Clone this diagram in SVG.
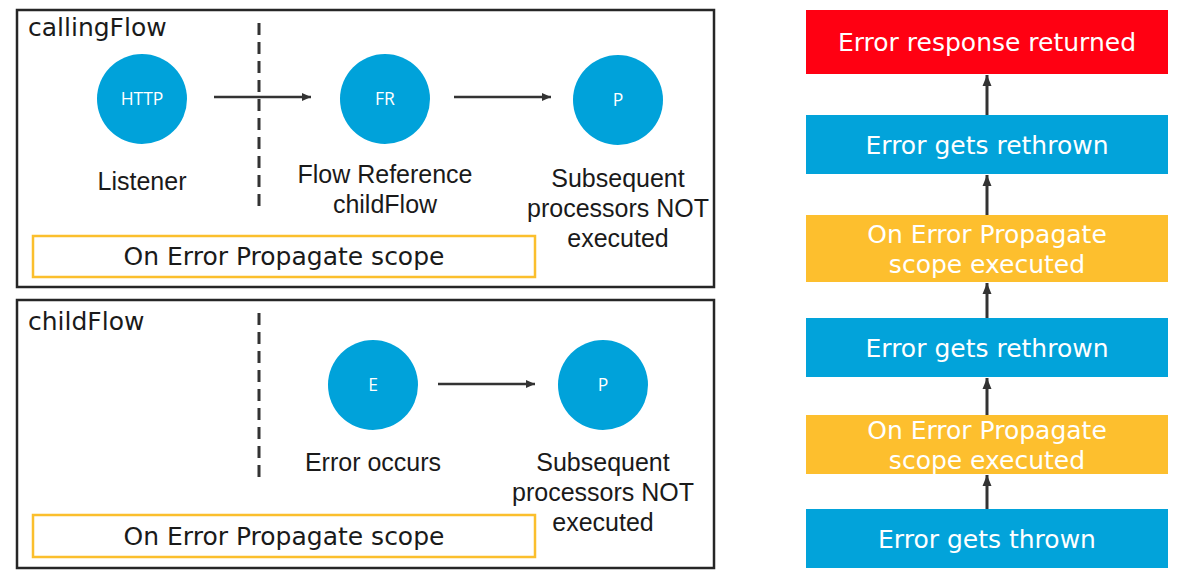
<svg xmlns="http://www.w3.org/2000/svg" width="1182" height="580" viewBox="0 0 1182 580">
<style>
.frame{fill:none;stroke:#262626;stroke-width:2.5}
.dash{stroke:#333;stroke-width:3;stroke-dasharray:12,7}
.scope{fill:#fff;stroke:#FBBF2D;stroke-width:2.5}
.node{fill:#00A2DA}
.nt{font-family:"Open Sans","DejaVu Sans",sans-serif;font-size:17.5px;fill:#fff;text-anchor:middle}
.lbl{font-family:"Liberation Sans",Arial,sans-serif;font-size:25px;fill:#1a1a1a;text-anchor:middle}
.vt{font-family:"DejaVu Sans",Verdana,sans-serif;font-size:25px;fill:#1a1a1a}
.bt{font-family:"DejaVu Sans",Verdana,sans-serif;font-size:25px;fill:#fff;text-anchor:middle}
.conn{stroke:#333;stroke-width:2.5;fill:none}
.up{stroke:#333;stroke-width:3;fill:none}
</style>
<defs>
<marker id="ah" markerWidth="10" markerHeight="10" refX="9" refY="5" orient="auto" markerUnits="userSpaceOnUse">
<path d="M0,1 L9,5 L0,9 Z" fill="#333"/>
</marker>
<marker id="ahu" markerWidth="12" markerHeight="12" refX="11" refY="6" orient="auto" markerUnits="userSpaceOnUse">
<path d="M0,1.5 L11,6 L0,10.5 Z" fill="#333"/>
</marker>
</defs>

<g id="callingFlow">
<rect class="frame" x="17" y="10" width="697" height="277"/>
<text class="vt" x="28" y="36">callingFlow</text>
<line class="dash" x1="259" y1="23" x2="259" y2="208"/>
</g>
<g id="scope1">
<rect class="scope" x="33" y="236" width="502" height="41"/>
<text class="vt" x="284" y="265" text-anchor="middle">On Error Propagate scope</text>
</g>
<g id="http">
<circle class="node" cx="142" cy="99" r="45"/>
<text class="nt" x="142" y="105">HTTP</text>
<text class="lbl" x="142" y="190">Listener</text>
</g>
<g id="fr">
<circle class="node" cx="385" cy="99" r="45"/>
<text class="nt" x="385" y="105">FR</text>
<text class="lbl" x="385" y="183">Flow Reference</text>
<text class="lbl" x="385" y="213">childFlow</text>
</g>
<g id="p1">
<circle class="node" cx="618" cy="100" r="45"/>
<text class="nt" x="618" y="106">P</text>
<text class="lbl" x="618" y="187">Subsequent</text>
<text class="lbl" x="618" y="217">processors NOT</text>
<text class="lbl" x="618" y="247">executed</text>
</g>

<g id="childFlow">
<rect class="frame" x="17" y="300" width="697" height="268"/>
<text class="vt" x="28" y="330">childFlow</text>
<line class="dash" x1="259" y1="313" x2="259" y2="483"/>
</g>
<g id="scope2">
<rect class="scope" x="33" y="515" width="502" height="42"/>
<text class="vt" x="284" y="545" text-anchor="middle">On Error Propagate scope</text>
</g>
<g id="e">
<circle class="node" cx="373" cy="385" r="45"/>
<text class="nt" x="373" y="391">E</text>
<text class="lbl" x="373" y="471">Error occurs</text>
</g>
<g id="p2">
<circle class="node" cx="603" cy="385" r="45"/>
<text class="nt" x="603" y="391">P</text>
<text class="lbl" x="603" y="471">Subsequent</text>
<text class="lbl" x="603" y="501">processors NOT</text>
<text class="lbl" x="603" y="531">executed</text>
</g>

<g id="s1">
<rect x="806" y="10" width="362" height="64" fill="#FF0012"/>
<text class="bt" x="987" y="51">Error response returned</text>
</g>
<g id="s2">
<rect x="806" y="115" width="362" height="59" fill="#02A3DA"/>
<text class="bt" x="987" y="154">Error gets rethrown</text>
</g>
<g id="s3">
<rect x="806" y="215" width="362" height="67" fill="#FDBF2E"/>
<text class="bt" x="987" y="243">On Error Propagate</text>
<text class="bt" x="987" y="273">scope executed</text>
</g>
<g id="s4">
<rect x="806" y="318" width="362" height="59" fill="#02A3DA"/>
<text class="bt" x="987" y="357">Error gets rethrown</text>
</g>
<g id="s5">
<rect x="806" y="415" width="362" height="59" fill="#FDBF2E"/>
<text class="bt" x="987" y="439">On Error Propagate</text>
<text class="bt" x="987" y="469">scope executed</text>
</g>
<g id="s6">
<rect x="806" y="509" width="362" height="59" fill="#02A3DA"/>
<text class="bt" x="987" y="548">Error gets thrown</text>
</g>

<g id="connectors">
<line class="conn" x1="214" y1="97" x2="311" y2="97" marker-end="url(#ah)"/>
<line class="conn" x1="454" y1="97" x2="551" y2="97" marker-end="url(#ah)"/>
<line class="conn" x1="438" y1="384" x2="535" y2="384" marker-end="url(#ah)"/>
<line class="up" x1="987" y1="115" x2="987" y2="75" marker-end="url(#ahu)"/>
<line class="up" x1="987" y1="215" x2="987" y2="175" marker-end="url(#ahu)"/>
<line class="up" x1="987" y1="318" x2="987" y2="283" marker-end="url(#ahu)"/>
<line class="up" x1="987" y1="415" x2="987" y2="378" marker-end="url(#ahu)"/>
<line class="up" x1="987" y1="509" x2="987" y2="475" marker-end="url(#ahu)"/>
</g>
</svg>
